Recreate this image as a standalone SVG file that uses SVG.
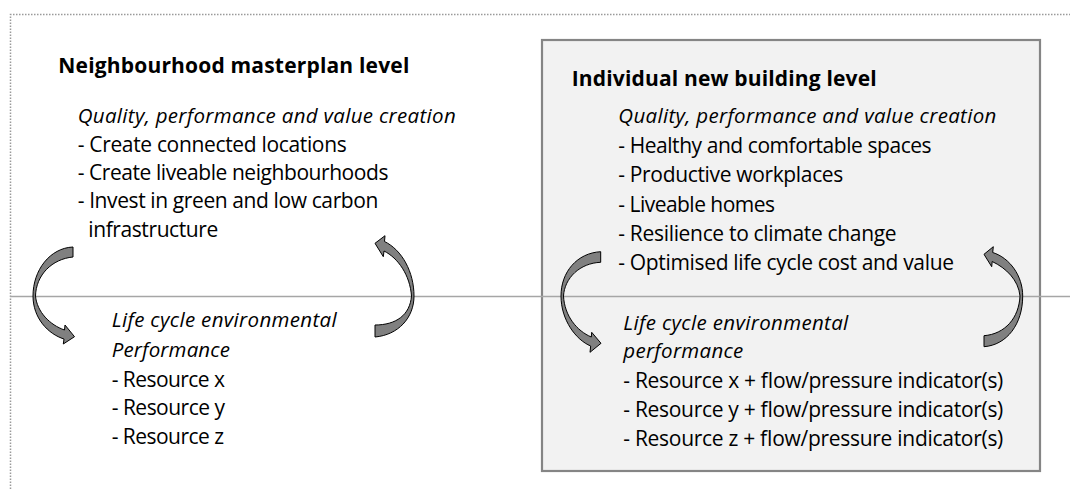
<svg xmlns="http://www.w3.org/2000/svg" width="1070" height="489" viewBox="0 0 1070 489">
<style>
text{font-family:"Open Sans","Noto Sans",sans-serif;font-size:21px;fill:#000}
.b{font-weight:bold;font-size:21px}
.i{font-style:italic;font-size:20.5px}
.arrow{fill:#808080;stroke:#000;stroke-width:1;stroke-linejoin:miter}
</style>
<rect width="1070" height="489" fill="#fff"/>
<path d="M10.5,489 V14.5 H1070" fill="none" stroke="#9a9a9a" stroke-width="1.5" stroke-dasharray="1.5,1.5"/>
<g id="building-box">
<rect x="542" y="40" width="498" height="431" fill="#f2f2f2" stroke="#858585" stroke-width="2.2"/>
</g>
<line x1="10" y1="296.5" x2="1070" y2="296.5" stroke="#a6a6a6" stroke-width="1.5"/>
<g id="connectors">
<path class="arrow" d="M73,247 C50,248 33,270 33,296 C33,318 48,334 64,339 L63.3,344 L74.5,336.7 L65,325 L64.5,330 C50,325 37,312 35.5,296 C36,275 52,259 73,257 Z"/>
<path class="arrow" d="M375,337 C398,335 414,318 414,296 C414,272 402,250 384.5,241.5 L385,235.7 L375,243.3 L383.3,256.7 L384,251 C398,258 410,275 411.5,296 C410,315 396,325 375,325 Z"/>
<path class="arrow" d="M600.7,251.7 C577,253 561,272 561,296 C561,320 576,340 590.7,346 L590,352.3 L601,343.3 L591.7,332.3 L591.3,337 C577,331 564.5,316 563.5,296 C564.5,278 580,263 600.7,262.3 Z"/>
<path class="arrow" d="M984,346.7 C1007,345 1022.7,324 1022.7,296 C1022.7,276 1010,258 992.7,252.5 L993.3,246.7 L984,254.3 L991.7,266.7 L992.2,261.5 C1006,268 1018.5,280 1020,296 C1019,318 1005,334 984,335.7 Z"/>
</g>
<g id="neighbourhood">
<text class="b" x="58.3" y="72.7" textLength="351">Neighbourhood masterplan level</text>
<text class="i" x="77.7" y="123" textLength="378">Quality, performance and value creation</text>
<text x="77.7" y="151.5" textLength="269">- Create connected locations</text>
<text x="77.7" y="180" textLength="310.7">- Create liveable neighbourhoods</text>
<text x="77.7" y="208.3" textLength="300.7">- Invest in green and low carbon</text>
<text x="88.3" y="236.7" textLength="130">infrastructure</text>
</g>
<g id="neighbourhood-lca">
<text class="i" x="111.7" y="327.3" textLength="225">Life cycle environmental</text>
<text class="i" x="111.7" y="356.7" textLength="118.3">Performance</text>
<text x="111.7" y="386.7" textLength="113.3">- Resource x</text>
<text x="111.7" y="415" textLength="113.3">- Resource y</text>
<text x="111.7" y="444" textLength="112.3">- Resource z</text>
</g>
<g id="building">
<text class="b" x="571.7" y="86" textLength="305">Individual new building level</text>
<text class="i" x="618.3" y="123.3" textLength="378">Quality, performance and value creation</text>
<text x="618.3" y="153" textLength="313.3">- Healthy and comfortable spaces</text>
<text x="618.3" y="182" textLength="225">- Productive workplaces</text>
<text x="618.3" y="211.5" textLength="156.7">- Liveable homes</text>
<text x="618.3" y="240.5" textLength="278.3">- Resilience to climate change</text>
<text x="618.3" y="270" textLength="335.7">- Optimised life cycle cost and value</text>
</g>
<g id="building-lca">
<text class="i" x="623.3" y="330" textLength="225">Life cycle environmental</text>
<text class="i" x="623.3" y="358.3" textLength="120">performance</text>
<text x="623.3" y="388.3" textLength="380">- Resource x + flow/pressure indicator(s)</text>
<text x="623.3" y="416.7" textLength="380">- Resource y + flow/pressure indicator(s)</text>
<text x="623.3" y="446" textLength="380">- Resource z + flow/pressure indicator(s)</text>
</g>
</svg>
